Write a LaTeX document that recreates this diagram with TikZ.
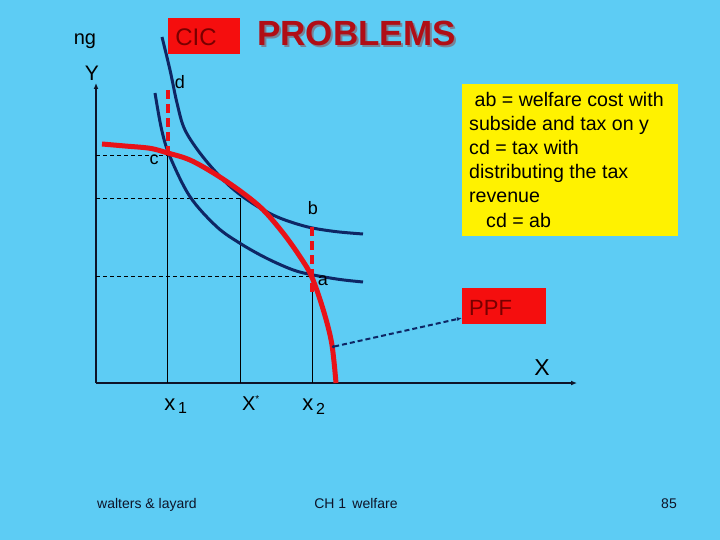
\documentclass[tikz,border=0pt]{standalone}
\usepackage{fontspec}
\setmainfont{Liberation Sans}
\usetikzlibrary{arrows.meta}
\definecolor{bgblue}{RGB}{93,204,244}
\definecolor{navy}{RGB}{14,38,100}
\definecolor{ppfred}{RGB}{232,18,24}
\definecolor{boxred}{RGB}{245,14,14}
\definecolor{darkred}{RGB}{120,0,0}
\definecolor{titlered}{RGB}{176,14,22}
\definecolor{shadowgray}{RGB}{120,130,150}
\definecolor{axisblk}{RGB}{14,20,40}
\newcommand{\fs}[1]{\fontsize{#1}{#1}\selectfont}
\tikzset{
  lbl/.style={inner sep=0pt, text=black},
  cic/.style={draw=navy, line width=3pt},
  ppf/.style={draw=ppfred, line width=5pt},
  reddash/.style={draw=ppfred, line width=4pt, dash pattern=on 9pt off 5pt},
  guide/.style={draw=black, line width=0.9pt, dash pattern=on 4pt off 3pt},
  vguide/.style={draw=black, line width=0.9pt},
  axis/.style={draw=axisblk, line width=2.5pt, -{Latex[length=6pt,width=5pt]}},
  ytext/.style={lbl, anchor=base west, font=\fs{19.6}},
  foot/.style={lbl, text=axisblk, font=\fs{14}, anchor=base},
}
\begin{document}
\begin{tikzpicture}[x=1pt,y=-1pt]
\fill[bgblue] (0,0) rectangle (720,540);
\useasboundingbox (0,0) rectangle (720,540);

% title area
\node[fill=boxred, minimum width=72pt, minimum height=36pt, inner sep=0pt, anchor=north west] (cicbox) at (168,18) {};
\node[lbl, text=darkred, font=\fs{24}] (cic) at (196,37) {CIC};
\node[lbl, text=titlered, font=\bfseries\fs{35}] (title) at (356.5,34) {\rlap{\kern2pt\raisebox{-2pt}{\color{shadowgray}PROBLEMS}}PROBLEMS};
\node[lbl, font=\fs{20}] (ng) at (85,41) {ng};
\node[lbl, font=\fs{21}] (ylab) at (92,73) {Y};

% axes
\coordinate (origin) at (96,383);
\coordinate (ytop) at (96,83);
\coordinate (xend) at (577,383);
\draw[axis] (origin) -- (ytop);
\draw[axis] (origin) -- (xend);
\node[lbl, font=\fs{23}] (xlab) at (542,368) {X};

% guide lines
\coordinate (cy) at (96,155);
\coordinate (ct) at (167.5,155);
\coordinate (cx) at (167.5,383);
\coordinate (sy) at (96,198.3);
\coordinate (s) at (240.5,198.3);
\coordinate (sx) at (240.5,383);
\coordinate (ay) at (96,276);
\coordinate (at2) at (312,276);
\coordinate (ax) at (312,383);
\draw[guide] (cy) -- (ct);
\draw[vguide] (ct) -- (cx);
\draw[guide] (sy) -- (s);
\draw[vguide] (s) -- (sx);
\draw[guide] (ay) -- (at2);
\draw[vguide] (at2) -- (ax);

% indifference curves
\draw[cic] plot[smooth, tension=0.55] coordinates {(162,37) (170,70) (177,103) (185,130) (203,157) (226.7,183.3) (250,201.7) (276.7,216.7) (306.7,226.7) (335,231.5) (363,234)};
\draw[cic] plot[smooth, tension=0.55] coordinates {(155,93) (161.7,130) (170,156.7) (190,196.7) (216.7,226.7) (240,243.3) (266.7,258.3) (293.3,270) (313.3,275) (340,279.5) (363,282)};

% PPF
\draw[ppf] plot[smooth, tension=0.55] coordinates {(102,144) (125,146) (150,148.3) (166.7,152.7) (190,160) (216.7,175) (243.3,193.3) (263.3,210) (283.3,233.3) (300,256.7) (311.7,276.7) (323.3,310) (331.7,343.3) (336,383)};

% red dashed gaps
\coordinate (d) at (168,90);
\coordinate (c) at (168,152);
\coordinate (b) at (311.7,227);
\coordinate (abot) at (311.7,294);
\draw[reddash] (d) -- (c);
\draw[reddash] (b) -- (abot);

\node[lbl, font=\fs{18}] (dlab) at (180,82) {d};
\node[lbl, font=\fs{18}] (clab) at (154,160) {c};
\node[lbl, font=\fs{18}] (blab) at (313,208) {b};
\node[lbl, font=\fs{18}] (alab) at (323,281) {a};

% axis labels
\node[lbl, font=\fs{22}, anchor=base] (x1) at (176,410) {x\textsubscript{\fs{16}\,1}};
\node[lbl, font=\fs{20}, anchor=base] (xstar) at (251,410) {X\textsuperscript{\fs{10}*}};
\node[lbl, font=\fs{22}, anchor=base] (x2) at (314,410) {x\textsubscript{\fs{16}\,2}};

% yellow box
\node[fill=yellow, minimum width=216pt, minimum height=152pt, inner sep=0pt, anchor=north west] (note) at (462,84) {};
\node[ytext] (l1) at (469,107) {\hspace{5.5pt}ab = welfare cost with};
\node[ytext] (l2) at (469,131) {subside and tax on y};
\node[ytext] (l3) at (469,155) {cd = tax with};
\node[ytext] (l4) at (469,179) {distributing the tax};
\node[ytext] (l5) at (469,203) {revenue};
\node[ytext] (l6) at (469,227) {\hspace{17pt}cd = ab};

% PPF box
\node[fill=boxred, minimum width=84pt, minimum height=36pt, inner sep=0pt, anchor=north west] (ppfbox) at (462,288) {};
\node[lbl, text=darkred, font=\fs{22}, anchor=base west] (ppflab) at (469,315) {PPF};
\coordinate (ppfpt) at (332,347);
\draw[navy, line width=2pt, dash pattern=on 5pt off 3pt, {Circle[length=3pt]}-{Latex[length=5pt,width=4pt]}] (ppfpt) -- (ppfbox.west |- 0,318);

% footer
\node[foot] (f1) at (147,508) {walters \& layard};
\node[foot] (f2) at (356,508) {CH 1\, welfare};
\node[foot] (f3) at (669,508) {85};
\end{tikzpicture}
\end{document}
